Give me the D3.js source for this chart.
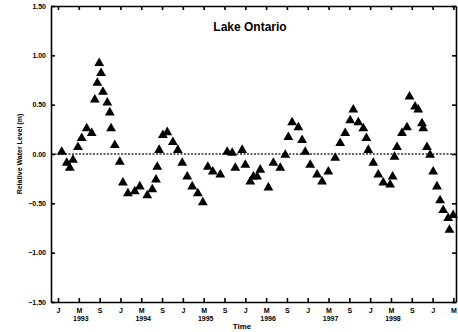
<!DOCTYPE html>
<html>
<head>
<meta charset="utf-8">
<script src="https://cdn.jsdelivr.net/npm/d3@7"></script>
<style>
  body { margin: 0; background: #fff; }
  svg { display: block; font-family: "Liberation Sans", Arial, sans-serif; }
  .axis path, .axis line { stroke: #000; stroke-width: 1.6; }
  .axis text { font-size: 7px; fill: #000; font-weight: bold; }
</style>
</head>
<body>
<script>
// decimal year of each reading
const times = [
  1993.06, 1993.14, 1993.19, 1993.24, 1993.32, 1993.38, 1993.46, 1993.54,
  1993.59, 1993.63, 1993.66, 1993.69, 1993.72, 1993.79, 1993.83, 1993.85,
  1993.91, 1993.99, 1994.04, 1994.12, 1994.23, 1994.31, 1994.43, 1994.51,
  1994.57, 1994.59, 1994.62, 1994.68, 1994.75, 1994.84, 1994.92, 1994.99,
  1995.07, 1995.15, 1995.24, 1995.32, 1995.40, 1995.48, 1995.60, 1995.71,
  1995.79, 1995.84, 1995.95, 1996.00, 1996.08, 1996.13, 1996.19, 1996.24,
  1996.37, 1996.45, 1996.56, 1996.64, 1996.69, 1996.75, 1996.85, 1996.91,
  1996.96, 1997.04, 1997.15, 1997.23, 1997.33, 1997.44, 1997.52, 1997.60,
  1997.68, 1997.73, 1997.81, 1997.89, 1997.94, 1997.97, 1998.05, 1998.13,
  1998.21, 1998.32, 1998.36, 1998.39, 1998.43, 1998.51, 1998.59, 1998.63,
  1998.72, 1998.77, 1998.83, 1998.85, 1998.91, 1998.96, 1999.01, 1999.07,
  1999.12, 1999.17, 1999.25, 1999.27, 1999.33
];
// level change (m)
const levels = [
  0.02, -0.09, -0.14, -0.06, 0.07, 0.16, 0.26, 0.21,
  0.55, 0.72, 0.92, 0.82, 0.63, 0.52, 0.42, 0.26,
  0.09, -0.08, -0.29, -0.40, -0.38, -0.33, -0.42, -0.36,
  -0.26, -0.13, 0.04, 0.19, 0.22, 0.12, 0.04, -0.09,
  -0.23, -0.33, -0.40, -0.49, -0.13, -0.18, -0.21, 0.02,
  0.01, -0.14, 0.04, -0.11, -0.28, -0.23, -0.23, -0.16,
  -0.34, -0.09, -0.14, -0.01, 0.17, 0.32, 0.27, 0.14,
  0.02, -0.11, -0.21, -0.28, -0.18, -0.04, 0.11, 0.21,
  0.34, 0.45, 0.32, 0.26, 0.16, 0.04, -0.09, -0.21,
  -0.29, -0.31, -0.23, -0.03, 0.07, 0.21, 0.27, 0.58,
  0.48, 0.45, 0.31, 0.26, 0.07, -0.01, -0.18, -0.33,
  -0.47, -0.57, -0.65, -0.77, -0.62
];
const years = [1993, 1994, 1995, 1996, 1997, 1998];
const monthLabels = ["J", "M", "S"];
const yTicks = [-1.5, -1.0, -0.5, 0, 0.5, 1.0, 1.5];

const W = 458, H = 332;
const margin = { top: 6, right: 2, bottom: 30, left: 51 };
const width = W - margin.left - margin.right;
const height = H - margin.top - margin.bottom;

const x = d3.scaleLinear().domain([1992.888, 1999.375]).range([0, width]);
const y = d3.scaleLinear().domain([-1.5, 1.5]).range([height, 0]);

// ticks every 4 months
const xTicks = [];
for (let i = 0; i < 20; i++) xTicks.push(1993 + i * 4 / 12);

const svg = d3.select("body").append("svg")
  .attr("width", W).attr("height", H);

const g = svg.append("g")
  .attr("transform", "translate(" + margin.left + "," + margin.top + ")");

// zero reference line
g.append("line")
  .attr("x1", 0).attr("x2", width)
  .attr("y1", y(0)).attr("y2", y(0))
  .attr("stroke", "#333").attr("stroke-width", 1.3)
  .attr("stroke-dasharray", "2,1.5");

const data = times.map((t, i) => ({ t: t, v: levels[i] }));

g.append("g").selectAll("path")
  .data(data)
  .enter().append("path")
  .attr("d", d3.symbol().type(d3.symbolTriangle).size(42))
  .attr("transform", d => "translate(" + x(d.t) + "," + y(d.v) + ")")
  .attr("fill", "#000");

// axes, ticks inward
const fmtY = d3.format(".2f");
const xAxis = d3.axisBottom(x).tickValues(xTicks)
  .tickFormat((d, i) => monthLabels[i % 3]).tickSizeInner(-4).tickSizeOuter(0).tickPadding(6);
g.append("g").attr("class", "axis")
  .attr("transform", "translate(0," + height + ")").call(xAxis);

g.append("g").attr("class", "axis")
  .call(d3.axisTop(x).tickValues(xTicks).tickFormat("").tickSizeInner(-4).tickSizeOuter(0));

g.append("g").attr("class", "axis")
  .call(d3.axisLeft(y).tickValues(yTicks).tickFormat(fmtY).tickSizeInner(-4).tickSizeOuter(0).tickPadding(5));

g.append("g").attr("class", "axis")
  .attr("transform", "translate(" + width + ",0)")
  .call(d3.axisRight(y).tickValues(yTicks).tickFormat("").tickSizeInner(-4).tickSizeOuter(0));

// year labels under the May ticks
g.append("g").selectAll("text")
  .data(years)
  .enter().append("text")
  .attr("x", d => x(d + 4 / 12) + 2)
  .attr("y", height + 19)
  .attr("text-anchor", "middle")
  .attr("font-size", 7)
  .attr("font-weight", "bold")
  .text(d => d);

svg.append("text")
  .attr("x", 242).attr("y", 329)
  .attr("text-anchor", "middle")
  .attr("font-size", 8)
  .attr("font-weight", "bold")
  .text("Time");

svg.append("text")
  .attr("transform", "translate(22," + (margin.top + y(0)) + ") rotate(-90)")
  .attr("text-anchor", "middle")
  .attr("font-size", 7)
  .attr("font-weight", "bold")
  .text("Relative Water Level (m)");

svg.append("text")
  .attr("x", 250).attr("y", 31)
  .attr("text-anchor", "middle")
  .attr("font-size", 12)
  .attr("font-weight", "bold")
  .text("Lake Ontario");
</script>
</body>
</html>
